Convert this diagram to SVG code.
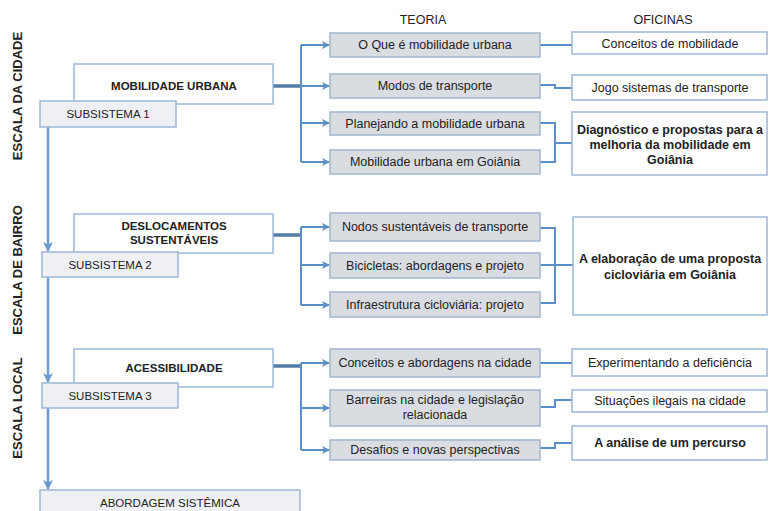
<svg xmlns="http://www.w3.org/2000/svg" width="769" height="511" viewBox="0 0 769 511">
<style>
text{font-family:"Liberation Sans",Arial,sans-serif;fill:#222;text-anchor:middle}
.side{font-size:13px;font-weight:bold}
.hd{font-size:12.5px}
.main{fill:#fff;stroke:#9db7d8;stroke-width:1.5}
.sub{fill:#eef0f4;stroke:#9db7d8;stroke-width:1.5}
.teo{fill:#d9dde2;stroke:#a3b6cc;stroke-width:1.5}
.ofi{fill:#fff;stroke:#9db7d8;stroke-width:1.5}
.mt{font-size:11.5px;font-weight:bold}
.st{font-size:11.5px}
.tt{font-size:12.5px}
.ob{font-size:12.5px;font-weight:bold}
.c{fill:none;stroke:#5b8fca;stroke-width:2}
.ct{fill:none;stroke:#557aa3;stroke-width:3.5}
.v{fill:none;stroke:#6d9bd0;stroke-width:2.5}
</style>
<defs>
<marker id="ar" markerWidth="8" markerHeight="8" refX="7" refY="4" orient="auto" markerUnits="userSpaceOnUse">
<path d="M0,0 L8,4 L0,8 L2,4 Z" fill="#5b8fca"/>
</marker>
<marker id="av" markerWidth="10" markerHeight="10" refX="9" refY="5" orient="auto" markerUnits="userSpaceOnUse">
<path d="M0,0 L10,5 L0,10 L2.5,5 Z" fill="#6d9bd0"/>
</marker>
</defs>

<g id="labels">
<text class="side" transform="translate(22,96) rotate(-90)">ESCALA DA CIDADE</text>
<text class="side" transform="translate(22,270) rotate(-90)">ESCALA DE BAIRRO</text>
<text class="side" transform="translate(22,408) rotate(-90)">ESCALA LOCAL</text>
<text class="hd" x="423" y="24">TEORIA</text>
<text class="hd" x="663" y="24">OFICINAS</text>
</g>

<g id="connectors">
<path class="v" d="M48,127 V251" marker-end="url(#av)"/>
<path class="v" d="M48,277 V382" marker-end="url(#av)"/>
<path class="v" d="M48,408 V489" marker-end="url(#av)"/>
<path class="ct" d="M273,86 H301"/>
<path class="c" d="M301,45 V162"/>
<path class="c" d="M301,45 H329" marker-end="url(#ar)"/>
<path class="c" d="M301,86 H329" marker-end="url(#ar)"/>
<path class="c" d="M301,123 H329" marker-end="url(#ar)"/>
<path class="c" d="M301,162 H329" marker-end="url(#ar)"/>
<path class="ct" d="M273,235 H301"/>
<path class="c" d="M301,227 V305"/>
<path class="c" d="M301,227 H329" marker-end="url(#ar)"/>
<path class="c" d="M301,265 H329" marker-end="url(#ar)"/>
<path class="c" d="M301,305 H329" marker-end="url(#ar)"/>
<path class="ct" d="M273,366 H301"/>
<path class="c" d="M301,363 V450"/>
<path class="c" d="M301,363 H329" marker-end="url(#ar)"/>
<path class="c" d="M301,408 H329" marker-end="url(#ar)"/>
<path class="c" d="M301,450 H329" marker-end="url(#ar)"/>
<path class="c" d="M540,45 H572"/>
<path class="c" d="M540,85 H555 V88 H572"/>
<path class="c" d="M540,123 H555 V162 H540 M555,143 H572"/>
<path class="c" d="M540,228 H555 V303 H540 M540,265 H573"/>
<path class="c" d="M540,363 H572"/>
<path class="c" d="M540,407 H555 V400 H572"/>
<path class="c" d="M540,448 H555 V443 H572"/>
</g>

<g id="mobilidade"><rect class="main" x="74" y="64" width="199" height="40"/><text class="mt" x="174" y="90">MOBILIDADE URBANA</text></g>
<g id="sub1"><rect class="sub" x="40" y="101" width="136" height="26"/><text class="st" x="108" y="118">SUBSISTEMA 1</text></g>
<g id="deslocamentos"><rect class="main" x="74" y="214" width="199" height="39"/><text class="mt" x="174" y="230">DESLOCAMENTOS</text><text class="mt" x="174" y="244">SUSTENTÁVEIS</text></g>
<g id="sub2"><rect class="sub" x="42" y="252" width="136" height="25"/><text class="st" x="110" y="269">SUBSISTEMA 2</text></g>
<g id="acessibilidade"><rect class="main" x="74" y="349" width="199" height="38"/><text class="mt" x="174" y="372">ACESSIBILIDADE</text></g>
<g id="sub3"><rect class="sub" x="42" y="383" width="136" height="25"/><text class="st" x="110" y="400">SUBSISTEMA 3</text></g>
<g id="abordagem"><rect class="sub" x="40" y="490" width="260" height="30"/><text class="st" x="170" y="507">ABORDAGEM SISTÊMICA</text></g>

<g id="t1"><rect class="teo" x="330" y="33" width="210" height="24"/><text class="tt" x="435" y="49">O Que é mobilidade urbana</text></g>
<g id="t2"><rect class="teo" x="330" y="74" width="210" height="24"/><text class="tt" x="435" y="90">Modos de transporte</text></g>
<g id="t3"><rect class="teo" x="330" y="112" width="210" height="23"/><text class="tt" x="435" y="128">Planejando a mobilidade urbana</text></g>
<g id="t4"><rect class="teo" x="330" y="150" width="210" height="24"/><text class="tt" x="435" y="166">Mobilidade urbana em Goiânia</text></g>
<g id="t5"><rect class="teo" x="330" y="213" width="210" height="28"/><text class="tt" x="435" y="231">Nodos sustentáveis de transporte</text></g>
<g id="t6"><rect class="teo" x="330" y="253" width="210" height="25"/><text class="tt" x="435" y="270">Bicicletas: abordagens e projeto</text></g>
<g id="t7"><rect class="teo" x="330" y="292" width="210" height="25"/><text class="tt" x="435" y="309">Infraestrutura cicloviária: projeto</text></g>
<g id="t8"><rect class="teo" x="330" y="349" width="210" height="28"/><text class="tt" x="435" y="367">Conceitos e abordagens na cidade</text></g>
<g id="t9"><rect class="teo" x="330" y="390" width="210" height="36"/><text class="tt" x="435" y="404">Barreiras na cidade e legislação</text><text class="tt" x="435" y="419">relacionada</text></g>
<g id="t10"><rect class="teo" x="330" y="440" width="210" height="20"/><text class="tt" x="435" y="454">Desafios e novas perspectivas</text></g>

<g id="o1"><rect class="ofi" x="572" y="32" width="195" height="22"/><text class="tt" x="670" y="48">Conceitos de mobilidade</text></g>
<g id="o2"><rect class="ofi" x="572" y="75" width="195" height="25"/><text class="tt" x="670" y="92">Jogo sistemas de transporte</text></g>
<g id="o3"><rect class="ofi" x="572" y="112" width="195" height="63"/><text class="ob" x="670" y="134">Diagnóstico e propostas para a</text><text class="ob" x="670" y="149">melhoria da mobilidade em</text><text class="ob" x="670" y="164">Goiânia</text></g>
<g id="o4"><rect class="ofi" x="573" y="217" width="194" height="98"/><text class="ob" x="670" y="263">A elaboração de uma proposta</text><text class="ob" x="670" y="279">cicloviária em Goiânia</text></g>
<g id="o5"><rect class="ofi" x="572" y="349" width="195" height="27"/><text class="tt" x="670" y="367">Experimentando a deficiência</text></g>
<g id="o6"><rect class="ofi" x="572" y="390" width="195" height="22"/><text class="tt" x="670" y="405">Situações ilegais na cidade</text></g>
<g id="o7"><rect class="ofi" x="572" y="426" width="195" height="34"/><text class="ob" x="670" y="447">A análise de um percurso</text></g>
</svg>
